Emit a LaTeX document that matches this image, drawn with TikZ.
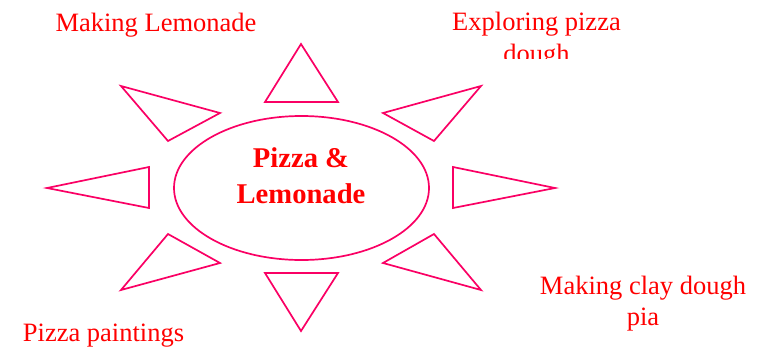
\documentclass[tikz,border=0pt]{standalone}
\usepackage{fontspec}
\setmainfont{Liberation Serif}
\usetikzlibrary{shapes.geometric}
\definecolor{ray}{RGB}{250,0,100}
\definecolor{lab}{RGB}{255,0,0}
\begin{document}
\begin{tikzpicture}[x=1bp,y=-1bp,
  raytri/.style={draw=ray,line width=1.7bp,line join=miter},
  lbl/.style={text=lab,anchor=base,inner sep=0pt,font=\fontsize{26.5bp}{32bp}\selectfont},
  hubtxt/.style={text=lab,anchor=base,inner sep=0pt,font=\fontsize{28.6bp}{36bp}\selectfont\bfseries}]
\useasboundingbox (0,0) rectangle (774,348);
% centre ellipse
\node[ellipse,draw=ray,line width=1.7bp,minimum width=255bp,minimum height=144bp,inner sep=0pt] (hub) at (301.5,188) {};
\node[hubtxt] (hub1) at (301,167) {Pizza \&};
\node[hubtxt] (hub2) at (301,203) {Lemonade};
% rays
\draw[raytri] (301,44) -- (265,102) -- (338,102) -- cycle;
\draw[raytri] (301,331) -- (265,273) -- (338,273) -- cycle;
\draw[raytri] (47,188) -- (149,167) -- (149,208) -- cycle;
\draw[raytri] (555,188) -- (453,167) -- (453,208) -- cycle;
\draw[raytri] (121,86) -- (220,113) -- (168,141) -- cycle;
\draw[raytri] (481,86) -- (383,113) -- (434,141) -- cycle;
\draw[raytri] (121,290) -- (220,263) -- (168,234) -- cycle;
\draw[raytri] (481,290) -- (383,263) -- (434,234) -- cycle;
% labels
\node[lbl] (lemon) at (156,31) {Making Lemonade};
\node[lbl] (explore1) at (536.5,30) {Exploring pizza};
\begin{scope}
\clip (440,32) rectangle (640,58);
\node[lbl] (explore2) at (536.5,62) {dough};
\end{scope}
\node[lbl] (clay1) at (643,294) {Making clay dough};
\node[lbl] (clay2) at (643,325) {pia};
\node[lbl] (paint) at (103.5,341) {Pizza paintings};
\end{tikzpicture}
\end{document}
